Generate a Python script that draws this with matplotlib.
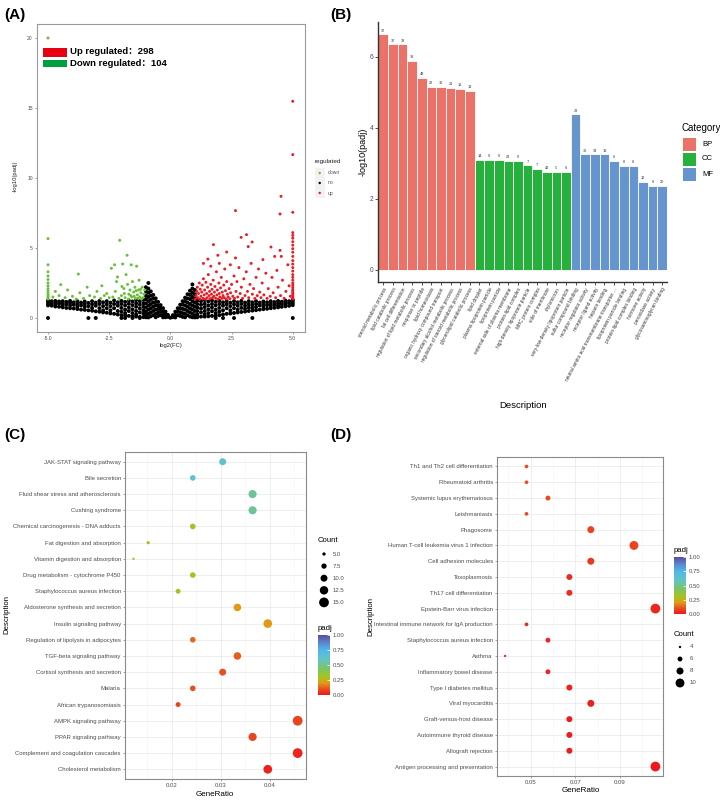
import numpy as np
import matplotlib.pyplot as plt
from matplotlib.colors import LinearSegmentedColormap, Normalize
from matplotlib.patches import Rectangle
import matplotlib.cm as cm

plt.rcParams['font.family'] = ['Liberation Sans', 'Noto Sans CJK SC', 'DejaVu Sans']

# ---------------- panel A: volcano ----------------
# non-significant genes, grouped per log2FC column
no_cols = [-5.0, -4.85, -4.7, -4.55, -4.4, -4.25, -4.1, -3.95, -3.8, -3.65,
           -3.5, -3.35, -3.2, -3.05, -2.9, -2.75, -2.6, -2.45, -2.3, -2.15,
           -2.0, -1.85, -1.7, -1.55, -1.4, -1.25, -1.1,
           -1.0, -0.9, -0.8, -0.7, -0.6, -0.5, -0.4, -0.3, -0.2, -0.1, 0.0,
           0.1, 0.2, 0.3, 0.4, 0.5, 0.6, 0.7, 0.8, 0.9, 1.0,
           1.1, 1.25, 1.4, 1.55, 1.7, 1.85, 2.0, 2.15, 2.3, 2.45,
           2.6, 2.75, 2.9, 3.05, 3.2, 3.35, 3.5, 3.65, 3.8, 3.95,
           4.1, 4.25, 4.4, 4.55, 4.7, 4.85, 5.0]
no_vals = [[1.25, 1.15, 1.0, 0.9, 0.0], [1.2, 1.05, 0.88], [1.22, 1.1, 0.95, 0.82], [1.18, 1.02, 0.8],
           [1.2, 1.05, 0.9, 0.76], [1.15, 0.98, 0.72], [1.22, 1.08, 0.9, 0.7], [1.12, 0.95, 0.68],
           [1.2, 1.0, 0.82, 0.64], [1.1, 0.9, 0.6], [1.18, 1.0, 0.8, 0.58], [1.08, 0.85, 0.55, 0.0],
           [1.2, 0.98, 0.72, 0.52], [1.1, 0.88, 0.48, 0.0], [1.22, 1.0, 0.7, 0.45], [1.12, 0.85, 0.55, 0.4],
           [1.2, 0.98, 0.7, 0.38], [1.1, 0.85, 0.55, 0.33], [1.25, 1.0, 0.7, 0.3], [1.12, 0.88, 0.5, 0.25],
           [1.22, 1.0, 0.72, 0.45, 0.2, 0.0], [1.15, 0.9, 0.6, 0.35, 0.18, 0.0], [1.25, 1.02, 0.75, 0.5, 0.15],
           [1.18, 0.92, 0.62, 0.35, 0.12, 0.0], [1.28, 1.05, 0.8, 0.5, 0.25, 0.1],
           [1.2, 0.95, 0.68, 0.4, 0.08, 0.0], [1.3, 1.05, 0.8, 0.55, 0.3, 0.06],
           [2.2, 1.9, 1.6, 1.35, 1.05, 0.75, 0.45, 0.2, 0.05],
           [2.5, 2.1, 1.8, 1.5, 1.2, 0.9, 0.6, 0.3, 0.04],
           [1.9, 1.6, 1.3, 1.0, 0.7, 0.4, 0.12], [1.65, 1.4, 1.1, 0.8, 0.5, 0.2],
           [1.4, 1.15, 0.9, 0.6, 0.3, 0.05], [1.15, 0.9, 0.65, 0.4, 0.15], [0.92, 0.7, 0.45, 0.2],
           [0.7, 0.5, 0.25, 0.05], [0.45, 0.25, 0.05], [0.22, 0.08], [0.02],
           [0.2, 0.06], [0.45, 0.22, 0.04], [0.7, 0.45, 0.2], [0.95, 0.7, 0.42, 0.15],
           [1.2, 0.95, 0.65, 0.35, 0.08], [1.45, 1.2, 0.9, 0.6, 0.3, 0.05], [1.7, 1.4, 1.1, 0.8, 0.5, 0.2],
           [1.95, 1.65, 1.35, 1.0, 0.7, 0.4, 0.1], [2.4, 2.1, 1.8, 1.5, 1.2, 0.9, 0.6, 0.3, 0.05],
           [2.0, 1.7, 1.4, 1.1, 0.8, 0.5, 0.2, 0.04],
           [1.25, 1.0, 0.75, 0.5, 0.25, 0.05], [1.2, 0.95, 0.68, 0.4, 0.1], [1.28, 1.02, 0.78, 0.5, 0.25, 0.1],
           [1.18, 0.9, 0.62, 0.35, 0.12], [1.25, 1.0, 0.75, 0.48, 0.15], [1.15, 0.9, 0.6, 0.35, 0.17, 0.0],
           [1.22, 1.0, 0.72, 0.45, 0.2], [1.12, 0.88, 0.55, 0.25, 0.0], [1.2, 0.98, 0.7, 0.3],
           [1.1, 0.85, 0.55, 0.32], [1.2, 0.98, 0.7, 0.36, 0.0], [1.12, 0.88, 0.6, 0.4],
           [1.22, 1.0, 0.72, 0.43], [1.1, 0.88, 0.66, 0.46], [1.2, 0.98, 0.75, 0.5],
           [1.12, 0.9, 0.7, 0.53, 0.0], [1.2, 1.0, 0.78, 0.56], [1.1, 0.9, 0.6],
           [1.18, 1.0, 0.82, 0.63], [1.12, 0.92, 0.66], [1.2, 1.02, 0.86, 0.7],
           [1.14, 0.95, 0.73], [1.22, 1.05, 0.9, 0.76], [1.16, 1.0, 0.8],
           [1.24, 1.08, 0.95, 0.83], [1.2, 1.05, 0.87], [1.3, 1.2, 1.05, 0.92, 0.0]]

down_pts = [(-5.0, 1.35), (-5.0, 1.45), (-5.0, 1.55), (-5.0, 1.65), (-5.0, 1.8), (-5.0, 1.95),
            (-5.0, 2.1), (-5.0, 2.3), (-5.0, 2.5), (-5.0, 2.75), (-5.0, 3.0), (-5.0, 3.3),
            (-5.0, 3.8), (-5.0, 5.67), (-5.0, 20.0),
            (-4.8, 1.5), (-4.7, 1.9), (-4.55, 1.6), (-4.48, 2.38), (-4.3, 1.45), (-4.2, 2.0),
            (-4.0, 1.55), (-3.85, 1.35), (-3.76, 3.14), (-3.7, 1.8), (-3.55, 1.4), (-3.4, 2.2),
            (-3.3, 1.6), (-3.1, 1.5), (-3.0, 1.9), (-2.85, 1.4), (-2.8, 2.3), (-2.7, 1.6),
            (-2.6, 1.75), (-2.5, 1.45),
            (-2.41, 3.55), (-2.28, 3.8), (-2.2, 2.6), (-2.16, 2.93), (-2.07, 5.55), (-2.0, 1.6),
            (-1.95, 3.86), (-1.9, 2.1), (-1.85, 1.45), (-1.81, 3.1), (-1.77, 4.48), (-1.75, 2.4),
            (-1.7, 1.7), (-1.65, 2.0), (-1.6, 3.8), (-1.58, 1.5), (-1.55, 2.6), (-1.5, 1.85),
            (-1.45, 2.2), (-1.42, 1.4), (-1.38, 3.7), (-1.35, 1.65), (-1.3, 2.0), (-1.28, 2.7),
            (-1.25, 1.5), (-1.2, 1.8), (-1.15, 2.2), (-1.12, 1.45), (-1.08, 1.7), (-1.05, 2.0),
            (-2.35, 1.5), (-2.25, 1.9), (-2.1, 1.4), (-1.98, 2.25), (-1.88, 1.75), (-1.72, 1.35),
            (-1.62, 1.6), (-1.48, 1.55), (-1.4, 1.95), (-1.32, 1.4), (-1.22, 2.05), (-1.18, 1.35)]

up_pts = [(5.0, 1.35), (5.0, 1.45), (5.0, 1.55), (5.0, 1.65), (5.0, 1.75), (5.0, 1.85), (5.0, 1.95),
          (5.0, 2.05), (5.0, 2.2), (5.0, 2.35), (5.0, 2.5), (5.0, 2.7), (5.0, 2.9), (5.0, 3.1),
          (5.0, 3.35), (5.0, 3.6), (5.0, 3.85), (5.0, 4.1), (5.0, 4.4), (5.0, 4.7), (5.0, 4.95),
          (5.0, 5.2), (5.0, 5.45), (5.0, 5.7), (5.0, 5.9), (5.0, 6.1), (5.0, 7.55), (5.0, 11.67),
          (5.0, 15.48),
          (1.02, 1.35), (1.05, 1.6), (1.08, 1.9), (1.1, 2.2), (1.12, 1.45), (1.15, 1.75), (1.18, 2.5),
          (1.2, 1.35), (1.22, 2.05), (1.25, 1.55), (1.28, 1.85), (1.3, 2.35), (1.33, 1.4), (1.35, 2.8),
          (1.38, 1.65), (1.4, 2.0), (1.42, 1.35), (1.45, 2.55), (1.48, 1.75), (1.5, 1.45), (1.52, 2.2),
          (1.55, 3.1), (1.58, 1.6), (1.6, 1.9), (1.62, 1.38), (1.65, 2.4), (1.68, 1.7), (1.7, 2.05),
          (1.72, 1.45), (1.75, 2.7), (1.78, 1.55), (1.8, 1.85), (1.82, 2.25), (1.85, 1.4), (1.88, 3.3),
          (1.9, 1.65), (1.92, 2.0), (1.95, 1.35), (1.98, 2.5), (2.0, 1.75), (2.02, 1.5), (2.05, 2.15),
          (2.08, 2.9), (2.1, 1.4), (2.12, 1.85), (2.15, 1.6), (2.18, 2.35), (2.2, 1.45), (2.22, 3.5),
          (2.25, 1.95), (2.28, 1.35), (2.3, 2.6), (2.33, 1.7), (2.36, 1.5), (2.4, 2.1), (2.43, 1.38),
          (2.46, 1.8), (2.5, 2.4),
          (2.55, 1.55), (2.6, 3.0), (2.62, 1.4), (2.68, 1.9), (2.72, 2.6), (2.75, 1.5), (2.8, 3.6),
          (2.85, 1.75), (2.9, 2.2), (2.95, 1.4), (3.0, 2.8), (3.05, 1.6), (3.1, 3.3), (3.15, 1.9),
          (3.2, 1.45), (3.25, 2.4), (3.3, 3.9), (3.35, 1.7), (3.4, 2.1), (3.45, 1.4), (3.5, 2.9),
          (3.55, 1.6), (3.6, 3.5), (3.65, 1.85), (3.7, 1.45), (3.75, 2.5), (3.82, 1.65), (3.9, 3.2),
          (3.95, 1.4), (4.0, 2.1), (4.08, 1.55), (4.15, 2.9), (4.2, 1.8), (4.3, 1.45), (4.35, 3.4),
          (4.4, 2.2), (4.5, 1.6), (4.58, 2.7), (4.65, 1.4), (4.72, 1.9), (4.8, 3.8), (4.85, 2.3),
          (4.9, 1.55),
          (4.52, 8.69), (4.48, 7.43), (2.66, 7.67), (3.11, 5.95), (2.89, 5.76), (3.34, 5.43),
          (1.76, 5.24), (4.11, 5.07), (4.48, 4.83), (4.53, 4.4), (4.26, 4.4), (3.18, 5.1),
          (2.3, 4.71), (1.94, 4.48), (1.53, 4.21), (2.66, 4.29), (3.78, 4.17), (1.35, 3.9),
          (1.65, 3.7), (2.0, 3.9), (2.45, 3.8)]

n_up, n_down = 298, 104

# ---------------- panel B: GO bars ----------------
bp_terms = ["steroid metabolic process", "lipid catabolic process", "fat cell differentiation",
            "regulation of lipid metabolic process", "response to peptide", "lipid homeostasis",
            "organic hydroxy compound transport", "secondary alcohol metabolic process",
            "regulation of steroid metabolic process", "glycerolipid catabolic process"]
cc_terms = ["lipid droplet", "plasma lipoprotein particle", "lipoprotein particle",
            "external side of plasma membrane", "protein-lipid complex",
            "high-density lipoprotein particle", "MHC protein complex", "side of membrane",
            "chylomicron", "very-low-density lipoprotein particle"]
mf_terms = ["sulfur compound binding", "receptor regulator activity", "receptor ligand activity",
            "heparin binding", "neutral amino acid transmembrane transporter ...",
            "lipoprotein particle binding", "protein-lipid complex binding", "hormone activity",
            "peroxidase activity", "glycosaminoglycan binding"]
bp_vals = [6.63, 6.35, 6.35, 5.88, 5.41, 5.15, 5.15, 5.12, 5.10, 5.04]
cc_vals = [3.10, 3.10, 3.10, 3.08, 3.08, 2.94, 2.85, 2.77, 2.77, 2.77]
mf_vals = [4.38, 3.25, 3.25, 3.25, 3.07, 2.92, 2.92, 2.48, 2.37, 2.37]
bp_counts = [37, 37, 33, 39, 48, 22, 30, 21, 18, 13]
cc_counts = [14, 9, 9, 23, 9, 7, 7, 42, 5, 6]
mf_counts = [29, 36, 34, 13, 6, 8, 8, 12, 9, 20]

# ---------------- panel C: KEGG (top to bottom) ----------------
c_terms = ["JAK-STAT signaling pathway", "Bile secretion", "Fluid shear stress and atherosclerosis",
           "Cushing syndrome", "Chemical carcinogenesis - DNA adducts", "Fat digestion and absorption",
           "Vitamin digestion and absorption", "Drug metabolism - cytochrome P450",
           "Staphylococcus aureus infection", "Aldosterone synthesis and secretion",
           "Insulin signaling pathway", "Regulation of lipolysis in adipocytes",
           "TGF-beta signaling pathway", "Cortisol synthesis and secretion", "Malaria",
           "African trypanosomiasis", "AMPK signaling pathway", "PPAR signaling pathway",
           "Complement and coagulation cascades", "Cholesterol metabolism"]
c_ratio = [0.0304, 0.0243, 0.0365, 0.0365, 0.0243, 0.0152, 0.0122, 0.0243, 0.0213, 0.0334,
           0.0396, 0.0243, 0.0334, 0.0304, 0.0243, 0.0213, 0.0457, 0.0365, 0.0457, 0.0396]
c_count = [10, 8, 12, 12, 8, 5, 4, 8, 7, 11, 13, 8, 11, 10, 8, 7, 15, 12, 15, 13]
c_padj = [0.62, 0.62, 0.52, 0.52, 0.32, 0.32, 0.32, 0.32, 0.30, 0.20,
          0.20, 0.13, 0.12, 0.10, 0.10, 0.08, 0.08, 0.08, 0.03, 0.02]

# ---------------- panel D: KEGG (top to bottom) ----------------
d_terms = ["Th1 and Th2 cell differentiation", "Rheumatoid arthritis", "Systemic lupus erythematosus",
           "Leishmaniasis", "Phagosome", "Human T-cell leukemia virus 1 infection",
           "Cell adhesion molecules", "Toxoplasmosis", "Th17 cell differentiation",
           "Epstein-Barr virus infection", "Intestinal immune network for IgA production",
           "Staphylococcus aureus infection", "Asthma", "Inflammatory bowel disease",
           "Type I diabetes mellitus", "Viral myocarditis", "Graft-versus-host disease",
           "Autoimmune thyroid disease", "Allograft rejection", "Antigen processing and presentation"]
d_ratio = [0.0481, 0.0481, 0.0577, 0.0481, 0.0769, 0.0962, 0.0769, 0.0673, 0.0673, 0.1058,
           0.0481, 0.0577, 0.0385, 0.0577, 0.0673, 0.0769, 0.0673, 0.0673, 0.0673, 0.1058]
d_count = [5, 5, 6, 5, 8, 10, 8, 7, 7, 11, 5, 6, 4, 6, 7, 8, 7, 7, 7, 11]
d_padj = [0.10, 0.10, 0.09, 0.09, 0.08, 0.08, 0.06, 0.04, 0.04, 0.03,
          0.03, 0.03, 0.03, 0.03, 0.02, 0.02, 0.01, 0.01, 0.01, 0.005]

# ---------------- style ----------------
W, H = 720, 802
GREY = '#4D4D4D'
padj_cmap = LinearSegmentedColormap.from_list('padj', [
    (0.0, '#F0141E'), (0.1, '#E8501E'), (0.2, '#E09A18'), (0.3, '#A8C41C'),
    (0.45, '#78C46C'), (0.6, '#62C4C8'), (0.75, '#50B8E6'), (0.88, '#5A84CC'),
    (1.0, '#5B4BA0')])
norm01 = Normalize(0, 1)


def rect(l, t, r, b):
    return [l / W, 1 - b / H, (r - l) / W, (b - t) / H]


def dot_area(c, cmin, cmax):
    size = 1 + 5 * (np.sqrt(c) - np.sqrt(cmin)) / (np.sqrt(cmax) - np.sqrt(cmin))
    d_px = 0.52 * (size * 2.845 + 0.94) + 0.4
    return (d_px * 0.72) ** 2


fig = plt.figure(figsize=(7.2, 8.02), dpi=100)

# ---- A ----
axA = fig.add_axes(rect(37, 24, 305, 332))
nx, ny = [], []
for x, ys in zip(no_cols, no_vals):
    nx += [x] * len(ys)
    ny += ys
dn = np.array(down_pts)
up = np.array(up_pts)
axA.scatter(nx, ny, s=8, c='black', edgecolors='none')
axA.scatter(dn[:, 0], dn[:, 1], s=4.5, c='#6ABF3A', edgecolors='none')
axA.scatter(up[:, 0], up[:, 1], s=4.5, c='#EC1C24', edgecolors='none')
axA.set_xlim(-5.45, 5.5)
axA.set_ylim(-1, 21)
axA.set_xticks([-5, -2.5, 0, 2.5, 5])
axA.set_xticklabels(['-5.0', '-2.5', '0.0', '2.5', '5.0'])
axA.set_yticks([0, 5, 10, 15, 20])
axA.tick_params(labelsize=3.6, colors='#7F7F7F', labelcolor=GREY, length=1.5, width=0.5, pad=1.5)
for s in axA.spines.values():
    s.set_color('#9A9A9A')
    s.set_linewidth(0.8)

# ---- B ----
axB = fig.add_axes(rect(378, 22, 667, 282))
terms = bp_terms + cc_terms + mf_terms
vals = bp_vals + cc_vals + mf_vals
counts = bp_counts + cc_counts + mf_counts
cols = ['#EA7269'] * len(bp_vals) + ['#25B13C'] * len(cc_vals) + ['#6594CF'] * len(mf_vals)
xb = np.arange(len(vals))
axB.bar(xb, vals, width=1.0, color=cols, edgecolor='white', linewidth=0.6)
for x, v, c in zip(xb, vals, counts):
    axB.text(x, v + 0.05, str(c), ha='center', va='bottom', fontsize=2.8, color='#333333')
axB.set_xlim(-0.55, 29.5)
axB.set_ylim(-0.34, 6.98)
axB.set_xticks(xb)
axB.set_xticklabels(terms, rotation=62, ha='right', va='top', rotation_mode='anchor',
                    fontsize=3.4, color=GREY)
axB.set_yticks([0, 2, 4, 6])
axB.tick_params(axis='y', labelsize=4.8, colors='#333333', labelcolor=GREY, length=2, width=0.6, pad=1.5)
axB.tick_params(axis='x', colors='#333333', length=2, width=0.6, pad=1.5)
axB.spines['top'].set_visible(False)
axB.spines['right'].set_visible(False)
for k in ['left', 'bottom']:
    axB.spines[k].set_color('#333333')
    axB.spines[k].set_linewidth(1.0)


# ---- C & D ----
def dot_panel(ax, terms, ratio, count, padj, cmin, cmax, xticks, xminor, xlim, fmt):
    n = len(terms)
    ypos = np.arange(n, 0, -1)
    ax.set_axisbelow(True)
    ax.grid(True, which='major', color='#EBEBEB', linewidth=0.6)
    ax.grid(True, which='minor', axis='x', color='#F3F3F3', linewidth=0.4)
    ax.scatter(ratio, ypos, s=[dot_area(c, cmin, cmax) for c in count], c=padj,
               cmap=padj_cmap, norm=norm01, edgecolors='none', zorder=3)
    ax.set_yticks(ypos)
    ax.set_yticklabels(terms)
    ax.set_ylim(0.4, n + 0.6)
    ax.set_xlim(*xlim)
    ax.set_xticks(xticks)
    ax.set_xticklabels([fmt % t for t in xticks])
    ax.set_xticks(xminor, minor=True)
    ax.tick_params(which='minor', length=0)
    ax.tick_params(which='major', labelsize=4.3, colors='#7F7F7F', labelcolor=GREY,
                   length=1.5, width=0.5, pad=1.5)
    for s in ax.spines.values():
        s.set_color('#8A8A8A')
        s.set_linewidth(0.8)


axC = fig.add_axes(rect(125, 452, 306, 779))
dot_panel(axC, c_terms, c_ratio, c_count, c_padj, 4, 15, [0.02, 0.03, 0.04],
          [0.015, 0.025, 0.035, 0.045], (0.01047, 0.0474), '%.2f')
axD = fig.add_axes(rect(497, 457, 663, 776))
dot_panel(axD, d_terms, d_ratio, d_count, d_padj, 4, 11, [0.05, 0.07, 0.09],
          [0.04, 0.06, 0.08, 0.10], (0.0349, 0.1092), '%.2f')


def colorbar(l, t, r, b):
    cax = fig.add_axes(rect(l, t, r, b))
    cb = fig.colorbar(cm.ScalarMappable(norm=norm01, cmap=padj_cmap), cax=cax)
    cb.outline.set_visible(False)
    cb.set_ticks([0, 0.25, 0.5, 0.75, 1.0])
    cb.set_ticklabels(['0.00', '0.25', '0.50', '0.75', '1.00'])
    cax.tick_params(labelsize=4.3, labelcolor=GREY, color='white', length=2.5, width=0.5,
                    direction='in', pad=2)
    return cax


colorbar(318, 635, 330, 695)
colorbar(674, 557, 686, 614)

# ---- overlay: panel labels, titles, legends ----
ov = fig.add_axes([0, 0, 1, 1], zorder=10)
ov.set_xlim(0, W)
ov.set_ylim(H, 0)
ov.axis('off')

for lab, x, y in [('(A)', 4, 15), ('(B)', 330, 15), ('(C)', 4, 435), ('(D)', 330, 435)]:
    ov.text(x, y, lab, fontsize=11, fontweight='bold', ha='left', va='center')

# A annotation + labels
ov.add_patch(Rectangle((43, 47.5), 24, 9, color='#E60012', lw=0))
ov.add_patch(Rectangle((43, 59.5), 24, 7.5, color='#00A040', lw=0))
ov.text(70, 52, 'Up regulated：%d' % n_up, fontsize=6.8, fontweight='bold', va='center')
ov.text(70, 64, 'Down regulated：%d' % n_down, fontsize=6.8, fontweight='bold', va='center')
ov.text(15, 176, '-log10(padj)', fontsize=4.2, rotation=90, ha='center', va='center', color='#222222')
ov.text(171, 345, 'log2(FC)', fontsize=4.2, ha='center', va='center', color='#222222')
ov.text(315, 162, 'regulated', fontsize=4.6, ha='left', va='center', color='#222222')
for i, (lab, col) in enumerate([('down', '#6ABF3A'), ('no', 'black'), ('up', '#EC1C24')]):
    yy = 173 + i * 10
    ov.add_patch(Rectangle((315, yy - 5), 9.5, 10, color='#F2F2F2', lw=0))
    ov.scatter([319.7], [yy], s=3, c=col, edgecolors='none')
    ov.text(328, yy, lab, fontsize=3.6, va='center', color=GREY)

# B labels + legend
ov.text(363, 152, '-log10(padj)', fontsize=6.5, rotation=90, ha='center', va='center')
ov.text(523, 406, 'Description', fontsize=6.8, ha='center', va='center')
ov.text(681, 128, 'Category', fontsize=7, ha='left', va='center')
for i, (lab, col) in enumerate([('BP', '#EA7269'), ('CC', '#25B13C'), ('MF', '#6594CF')]):
    yy = 137.5 + i * 15
    ov.add_patch(Rectangle((682.5, yy), 13, 13, color=col, lw=0))
    ov.text(702, yy + 6.5, lab, fontsize=5.5, va='center')

# C labels + legend
ov.text(7, 615, 'Description', fontsize=5.6, rotation=90, ha='center', va='center')
ov.text(215, 794, 'GeneRatio', fontsize=5.8, ha='center', va='center')
ov.text(318, 540, 'Count', fontsize=5.6, ha='left', va='center')
for i, v in enumerate([5.0, 7.5, 10.0, 12.5, 15.0]):
    yy = 554 + i * 12.1
    ov.scatter([324], [yy], s=dot_area(v, 4, 15), c='black', edgecolors='none')
    ov.text(333, yy, '%.1f' % v, fontsize=4.3, va='center', color=GREY)
ov.text(318, 628, 'padj', fontsize=5.6, ha='left', va='center')

# D labels + legend
ov.text(371, 617, 'Description', fontsize=5.6, rotation=90, ha='center', va='center')
ov.text(581, 790, 'GeneRatio', fontsize=5.8, ha='center', va='center')
ov.text(674, 550, 'padj', fontsize=5.6, ha='left', va='center')
ov.text(674, 634, 'Count', fontsize=5.6, ha='left', va='center')
for i, v in enumerate([4, 6, 8, 10]):
    yy = 647 + i * 12
    ov.scatter([680], [yy], s=dot_area(v, 4, 11), c='black', edgecolors='none')
    ov.text(690, yy, str(v), fontsize=4.3, va='center', color=GREY)

fig.savefig('out.png', dpi=100)
